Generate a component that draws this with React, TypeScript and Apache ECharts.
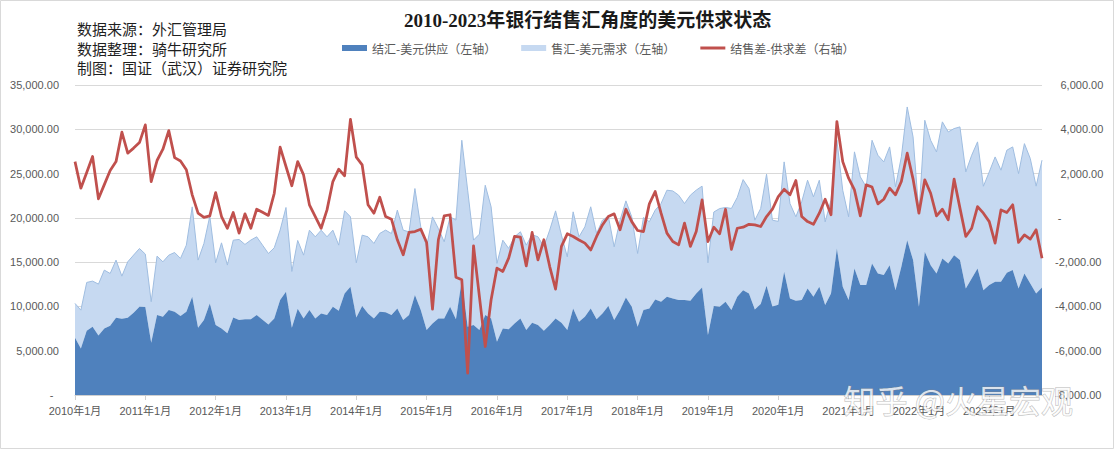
import React, { useEffect, useRef } from "react";
import * as echarts from "echarts";

// ---- data (亿元) ----
const startYear = 2010;
const months: string[] = [];
for (let i = 0; i < 166; i++) {
  months.push(`${startYear + Math.floor(i / 12)}年${(i % 12) + 1}月`);
}

const seriesNames = ["结汇-美元供应（左轴）", "售汇-美元需求（左轴）", "结售差-供求差（右轴）"];

// 结汇 (supply)
const settlement = [
  6470, 5260, 7260, 7710, 6730, 7520, 7820, 8720, 8610, 8720,
  9300, 9960, 9930, 5900, 9020, 8840, 9590, 9400, 8910, 9400,
  11090, 7600, 8460, 10340, 7900, 7520, 6960, 8760, 8460, 8540,
  8540, 9020, 8500, 7970, 8650, 10720, 11660, 7600, 9750, 8650,
  9590, 8650, 9210, 9020, 9960, 9510, 11470, 12220, 8760, 10040,
  9210, 8650, 9400, 9330, 9020, 9780, 8460, 9020, 11280, 9590,
  7330, 8080, 8650, 8650, 9960, 8540, 12970, 7710, 7900, 7330,
  9020, 8650, 6020, 7520, 7410, 8080, 8650, 7330, 8160, 7900,
  7260, 7900, 8650, 8160, 7330, 9780, 8270, 8840, 9780, 8540,
  9210, 10040, 8460, 9590, 11020, 9960, 7710, 9590, 9780, 10790,
  10530, 11090, 10900, 10720, 10720, 10640, 11470, 12150, 6770, 10040,
  9960, 10530, 9590, 11090, 11840, 11470, 9660, 10270, 12330, 10000,
  10200, 13910, 10900, 10640, 10720, 12030, 11090, 12220, 10150, 11470,
  16540, 12220, 10720, 14290, 12410, 12410, 14850, 13720, 13540, 14660,
  11840, 14480, 17480, 15230, 9960, 16170, 14660, 13720, 15420, 14850,
  15790, 15230, 12030, 13160, 14290, 11840, 12410, 12780, 12780, 13800,
  14100, 12030, 13720, 12600, 11470, 12150,
];

// 售汇 (demand)
const sale = [
  3870, 4320, 5450, 5150, 5790, 6580, 5900, 6510, 4810, 6320,
  6500, 6580, 5980, 4630, 6660, 6200, 6200, 6690, 6510, 7520,
  10150, 7630, 8650, 9850, 7030, 9660, 7710, 8720, 9100, 8460,
  8950, 8840, 8420, 8010, 7970, 7900, 9510, 6350, 7700, 7140,
  9020, 9210, 9400, 8840, 8650, 7410, 9330, 7900, 6170, 8010,
  8650, 8460, 8840, 9290, 9210, 11090, 10150, 9400, 12030, 9400,
  9400, 12030, 10150, 8650, 10150, 11210, 15790, 15420, 9590, 10830,
  14660, 12600, 8840, 9960, 9140, 9780, 9780, 9590, 9940, 9960,
  9480, 10720, 12140, 9890, 8270, 10900, 9590, 10150, 11470, 9700,
  10530, 10150, 8270, 10150, 10900, 10150, 8270, 10450, 9780, 10080,
  11090, 12030, 12140, 11840, 10900, 11920, 11660, 11430, 8160, 10620,
  11090, 10640, 11470, 11210, 12480, 11840, 10080, 10790, 12600, 9740,
  9400, 12410, 10720, 9480, 11090, 12220, 11280, 12030, 9400, 10530,
  12220, 10900, 9400, 13160, 12220, 11090, 13910, 13350, 12780, 13350,
  11660, 12410, 15040, 13910, 10530, 14850, 14100, 13720, 15420, 14850,
  14290, 15040, 13160, 13910, 14290, 11730, 12780, 14100, 12600, 13840,
  13910, 12970, 14660, 14100, 12110, 14360,
];

// 结售差 (net, right axis)
const net = [
  2540, 1340, 2050, 2770, 860, 1500, 2140, 2540, 3870, 2920,
  3150, 3400, 4200, 1640, 2590, 3100, 3940, 2720, 2570, 2170,
  1040, 210, 20, 90, 1140, 60, -470, 240, -690, 180,
  -470, 390, 250, 110, 1110, 3190, 2320, 1450, 2540, 1940,
  590, 60, -470, 360, 1640, 2200, 1900, 4450, 2740, 2390,
  590, 210, 930, 60, -60, -990, -1670, -660, -620, -510,
  -1110, -4120, -990, 90, 140, -2680, -2800, -7010, -1260, -3550,
  -5810, -3700, -2270, -2420, -1820, -840, -870, -2170, -660, -1900,
  -990, -2200, -3220, -1290, -720, -840, -1000, -1140, -1450, -840,
  -320, 60, 180, -540, 390, -170, -570, -620, 630, 1190,
  210, -690, -1070, -1220, -240, -1290, -620, 810, -1070, -420,
  -720, 390, -1420, -470, -420, -290, -320, -390, 60, 390,
  960, 1290, 1040, 1690, 60, -170, -290, 210, 840, 140,
  4350, 2540, 1790, 1260, 90, 1490, 1390, 630, 840, 1340,
  1040, 1640, 2920, 1750, 210, 1720, 1110, 90, 390, -90,
  1750, 440, -840, -470, 510, 210, -170, -1140, 360, 240,
  590, -1110, -770, -960, -540, -1820,
];

const notes = ["数据来源：外汇管理局", "数据整理：骑牛研究所", "制图：国证（武汉）证券研究院"];

const fmt2 = (v: number) =>
  Math.abs(v).toLocaleString("en-US", { minimumFractionDigits: 2, maximumFractionDigits: 2 });

const LATIN = '"Liberation Sans", "Noto Sans CJK SC", sans-serif';
const CJK = '"Noto Sans CJK SC", sans-serif';

export default function App() {
  const ref = useRef<HTMLDivElement>(null);
  useEffect(() => {
    if (!ref.current) return;
    const chart = echarts.init(ref.current, null, { renderer: "svg" });
    chart.setOption({
      animation: false,
      backgroundColor: "#ffffff",
      title: {
        text: "2010-2023年银行结售汇角度的美元供求状态",
        left: 404,
        top: 11,
        padding: 0,
        textStyle: {
          fontSize: 19,
          fontWeight: "bold",
          color: "#1a1a1a",
          fontFamily: '"Liberation Serif", "Noto Sans CJK SC", serif',
        },
      },
      legend: {
        left: 342,
        top: 42,
        padding: 0,
        itemWidth: 25,
        itemHeight: 6,
        itemGap: 25,
        textStyle: { fontSize: 12, color: "#595959", fontFamily: CJK },
        data: [
          { name: seriesNames[0], icon: "rect" },
          { name: seriesNames[1], icon: "rect" },
          { name: seriesNames[2], icon: "path://M0,0H25V3H0Z" },
        ],
      },
      grid: { left: 75, right: 72, top: 85, bottom: 54 },
      xAxis: {
        type: "category",
        data: months,
        boundaryGap: false,
        axisLine: { lineStyle: { color: "#d0d0d0", width: 1 } },
        axisTick: {
          interval: (i: number) => i % 12 === 0,
          length: 5,
          lineStyle: { color: "#d0d0d0" },
        },
        axisLabel: {
          interval: (i: number) => i % 12 === 0,
          color: "#595959",
          fontSize: 11,
          margin: 10,
          fontFamily: LATIN,
        },
      },
      yAxis: [
        {
          type: "value",
          min: 0,
          max: 35000,
          interval: 5000,
          axisLine: { show: false },
          axisTick: { show: false },
          splitLine: { lineStyle: { color: "#d9d9d9", width: 1 } },
          axisLabel: {
            color: "#595959",
            fontSize: 11,
            margin: 16,
            fontFamily: LATIN,
            formatter: (v: number) => (v === 0 ? "-\u2002" : fmt2(v)),
          },
        },
        {
          type: "value",
          min: -8000,
          max: 6000,
          interval: 2000,
          axisLine: { show: false },
          axisTick: { show: false },
          splitLine: { show: false },
          axisLabel: {
            color: "#595959",
            fontSize: 11,
            margin: 13,
            align: "left",
            fontFamily: LATIN,
            formatter: (v: number) =>
              v === 0 ? "\u2005-" : v < 0 ? "-" + fmt2(v) : "\u2002" + fmt2(v),
          },
        },
      ],
      series: [
        {
          name: seriesNames[0],
          type: "line",
          stack: "total",
          data: settlement,
          yAxisIndex: 0,
          symbol: "none",
          color: "#4f81bd",
          lineStyle: { width: 0, color: "#4f81bd" },
          areaStyle: { color: "#4f81bd", opacity: 1 },
          z: 2,
        },
        {
          name: seriesNames[1],
          type: "line",
          stack: "total",
          data: sale,
          yAxisIndex: 0,
          symbol: "none",
          color: "#c6d9f1",
          lineStyle: { width: 1, color: "#9fbde0" },
          areaStyle: { color: "#c6d9f1", opacity: 1 },
          z: 1,
        },
        {
          name: seriesNames[2],
          type: "line",
          data: net,
          yAxisIndex: 1,
          symbol: "none",
          color: "#c0504d",
          lineStyle: { width: 2.75, color: "#c0504d", join: "round" },
          z: 5,
        },
      ],
      graphic: [
        {
          type: "rect",
          shape: { x: 0.5, y: 0.5, width: 1113, height: 448 },
          style: { fill: "none", stroke: "#d9d9d9", lineWidth: 1 },
          silent: true,
          z: 100,
        },
        ...notes.map((t, k) => ({
          type: "text",
          left: 77,
          top: 21 + k * 19.5,
          style: { text: t, fontSize: 15, fill: "#1f1f1f", fontFamily: CJK },
          z: 100,
        })),
        {
          type: "text",
          left: 843,
          top: 382,
          style: {
            text: "知乎 @火星宏观",
            fontSize: 32,
            fill: "rgba(255,255,255,0.78)",
            stroke: "rgba(130,130,130,0.55)",
            lineWidth: 1,
            fontFamily: CJK,
          },
          silent: true,
          z: 110,
        },
      ],
    });
    return () => chart.dispose();
  }, []);
  return (
    <div
      ref={ref}
      style={{ position: "fixed", left: 0, top: 0, width: 1114, height: 449 }}
    />
  );
}
